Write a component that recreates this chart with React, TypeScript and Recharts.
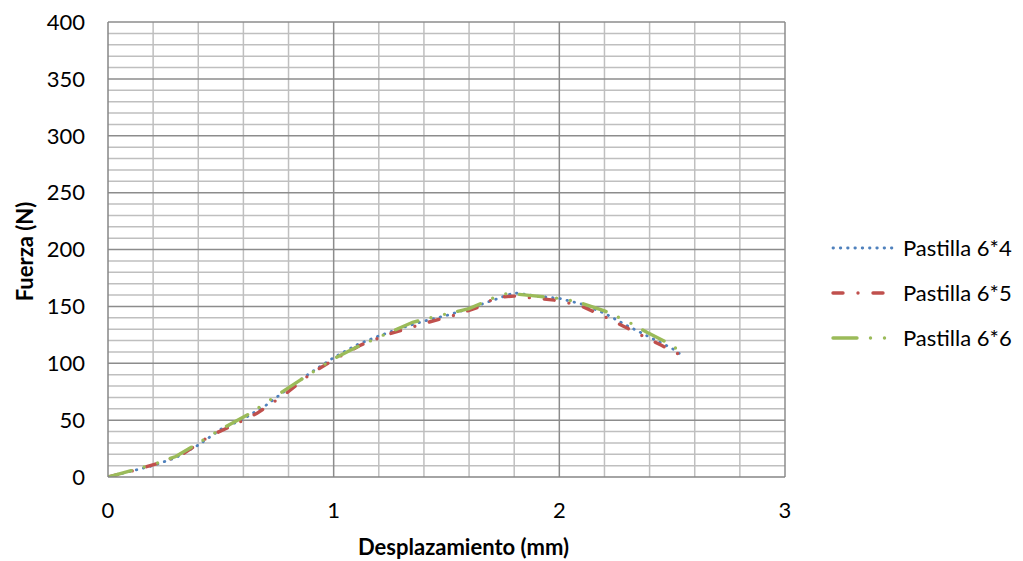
import { LineChart, Line, XAxis, YAxis, ReferenceLine, Label } from 'recharts'

// Pastilla 6*4 (blue, dotted)
const disp64 = [0, 0.1, 0.2, 0.3, 0.4, 0.5, 0.6, 0.7, 0.8, 0.9, 1.0, 1.1, 1.2, 1.3, 1.4, 1.5, 1.6, 1.7, 1.8, 1.9, 2.0, 2.1, 2.2, 2.3, 2.4, 2.5, 2.55]
const force64 = [0, 5, 10, 17, 28, 42, 51, 63, 78, 92, 105, 116, 124, 131, 137, 142, 148, 155, 162, 159, 157, 152, 144, 133, 123, 113, 106]

// Pastilla 6*5 (red, dash-dot)
const disp65 = [0, 0.12, 0.22, 0.33, 0.45, 0.55, 0.66, 0.78, 0.9, 1.0, 1.12, 1.25, 1.4, 1.55, 1.65, 1.72, 1.8, 1.9, 2.0, 2.1, 2.2, 2.3, 2.4, 2.45, 2.53]
const force65 = [0, 6, 12, 20, 36, 45, 56, 72, 91, 103, 116, 126, 135, 143, 150, 158, 159, 157, 155, 150, 141, 131, 121, 116, 108]

// Pastilla 6*6 (green, dash-dot-dot)
const disp66 = [0, 0.13, 0.2, 0.3, 0.41, 0.5, 0.63, 0.75, 0.85, 1.0, 1.1, 1.2, 1.35, 1.47, 1.6, 1.68, 1.75, 1.8, 1.9, 2.0, 2.08, 2.2, 2.3, 2.39, 2.5, 2.55]
const force66 = [0, 7, 11, 18, 31, 42, 56, 72, 85, 104, 114, 123, 136, 142, 148, 155, 161, 161, 159, 157, 154, 146, 137, 127, 116, 107]

const xTicks = [0, 1, 2, 3]
const yTicks = [0, 50, 100, 150, 200, 250, 300, 350, 400]

const FONT = 'Lato, sans-serif'

const toRows = (xs: number[], ys: number[]) => xs.map((x, i) => ({ x, y: ys[i] }))

const series = [
  { name: 'Pastilla 6*4', data: toRows(disp64, force64), color: '#4F81BD', dash: '0.5 6.8', width: 2.8 },
  { name: 'Pastilla 6*5', data: toRows(disp65, force65), color: '#C0504D', dash: '10 15 0 15', width: 3.4 },
  { name: 'Pastilla 6*6', data: toRows(disp66, force66), color: '#9BBB59', dash: '24 13.5 0 14 0 13.5', width: 3.4 },
]

// grid lines: minor every 10 N / 0.2 mm, major every 50 N / 1 mm
const minorY: number[] = []
for (let v = 10; v < 400; v += 10) if (v % 50 !== 0) minorY.push(v)
const majorY = [50, 100, 150, 200, 250, 300, 350, 400]
const minorX = [0.2, 0.4, 0.6, 0.8, 1.2, 1.4, 1.6, 1.8, 2.2, 2.4, 2.6, 2.8]
const majorX = [1, 2, 3]

function LegendBox() {
  return (
    <div
      style={{
        position: 'absolute',
        left: 830,
        top: 225,
        fontFamily: FONT,
        fontSize: 22,
        color: '#000',
      }}
    >
      {series.map((s) => (
        <div key={s.name} style={{ display: 'flex', alignItems: 'center', height: 45 }}>
          <svg width={64} height={10} style={{ marginRight: 9 }}>
            <line
              x1={3}
              y1={5}
              x2={62}
              y2={5}
              stroke={s.color}
              strokeWidth={s.width}
              strokeDasharray={s.dash}
              strokeLinecap="round"
            />
          </svg>
          <span>{s.name}</span>
        </div>
      ))}
    </div>
  )
}

export default function App() {
  return (
    <div style={{ position: 'absolute', left: 0, top: 0, width: 1023, height: 561, background: '#fff' }}>
      <LineChart width={1023} height={561} margin={{ top: 22, right: 238, left: 0, bottom: 0 }}>
        <XAxis
          type="number"
          dataKey="x"
          domain={[0, 3]}
          ticks={xTicks}
          height={84}
          tickLine={false}
          tickSize={0}
          tickMargin={25}
          axisLine={{ stroke: '#868686', strokeWidth: 1.5 }}
          tick={{ fontSize: 22, fill: '#000', fontFamily: FONT }}
          allowDataOverflow
        >
          <Label
            content={({ viewBox }: any) => (
              <text
                x={viewBox.x + viewBox.width / 2 + 17}
                y={viewBox.y + 78}
                textAnchor="middle"
                fontSize={22}
                fontWeight="bold"
                fontFamily={FONT}
                fill="#000"
              >
                Desplazamiento (mm)
              </text>
            )}
          />
        </XAxis>
        <YAxis
          type="number"
          domain={[0, 400]}
          ticks={yTicks}
          width={108}
          tickLine={false}
          tickSize={0}
          tickMargin={23}
          axisLine={{ stroke: '#868686', strokeWidth: 1.5 }}
          tick={{ fontSize: 22, fill: '#000', fontFamily: FONT }}
          allowDataOverflow
        >
          <Label
            content={({ viewBox }: any) => {
              const cx = 33
              const cy = viewBox.y + viewBox.height / 2 + 2
              return (
                <text
                  x={cx}
                  y={cy}
                  transform={`rotate(-90 ${cx} ${cy})`}
                  textAnchor="middle"
                  fontSize={22}
                  fontWeight="bold"
                  fontFamily={FONT}
                  fill="#000"
                >
                  Fuerza (N)
                </text>
              )
            }}
          />
        </YAxis>
        {minorY.map((v) => (
          <ReferenceLine key={'my' + v} y={v} stroke="#BFBFBF" strokeWidth={1.5} />
        ))}
        {minorX.map((v) => (
          <ReferenceLine key={'mx' + v} x={v} stroke="#BFBFBF" strokeWidth={1.5} />
        ))}
        {majorY.map((v) => (
          <ReferenceLine key={'My' + v} y={v} stroke="#8C8C8C" strokeWidth={1.5} />
        ))}
        {majorX.map((v) => (
          <ReferenceLine key={'Mx' + v} x={v} stroke="#8C8C8C" strokeWidth={1.5} />
        ))}
        {series.map((s) => (
          <Line
            key={s.name}
            data={s.data}
            dataKey="y"
            name={s.name}
            type="linear"
            stroke={s.color}
            strokeWidth={s.width}
            strokeDasharray={s.dash}
            strokeLinecap="round"
            dot={false}
            activeDot={false}
            isAnimationActive={false}
          />
        ))}
      </LineChart>
      <LegendBox />
    </div>
  )
}
